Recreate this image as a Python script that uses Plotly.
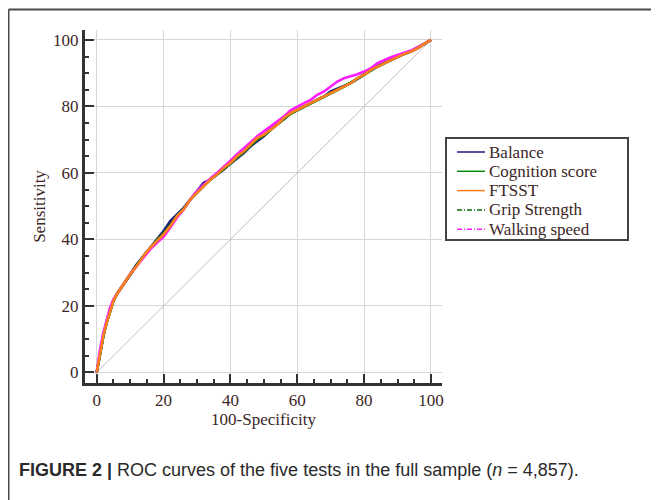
import plotly.graph_objects as go

# ROC points (100-Specificity vs Sensitivity)
fpr = [0, 1, 2, 3, 4, 5, 6, 8, 10, 12, 14, 16, 18, 20, 22, 24, 26, 28, 30,
       32, 34, 36, 38, 40, 42, 44, 46, 48, 50, 52, 54, 56, 58, 60, 62, 64,
       66, 68, 70, 72, 74, 76, 78, 80, 82, 84, 86, 88, 90, 92, 94, 96, 98, 100]

balance = [0, 6, 11, 15.5, 19, 21.5, 23.5, 26.5, 29.5, 32.5, 35, 37.5, 40, 42.5,
           45.5, 47.5, 49.5, 52, 54.5, 57, 58, 59.5, 61, 62.8, 64.5, 66, 68,
           69.5, 71, 73, 74.5, 76.2, 78, 79, 80, 81, 82, 83, 84.5, 85.3, 86.2,
           87, 88.3, 89.5, 91, 92, 93, 94, 95, 95.8, 96.5, 97.5, 98.8, 100]
cognition = [0, 6, 11, 15, 18.5, 21.5, 23.5, 26.5, 29.5, 32.2, 35, 37.5, 39.8,
             41.8, 44.2, 47, 49, 52, 54, 56.2, 58, 59.5, 61.2, 62.7, 64.6, 66.3,
             68.2, 70, 71.3, 73, 74.6, 76.3, 77.8, 78.8, 79.8, 80.8, 81.8, 83,
             84, 85, 86, 87.2, 88.4, 89.6, 91, 92, 93, 94, 95, 95.8, 96.6, 97.6,
             98.8, 100]
ftsst = [0, 6, 11, 15, 18.5, 21.5, 23.5, 26.5, 29.5, 32, 35, 37.5, 39.5, 41.5,
         44, 47, 49, 52, 54, 56, 58, 59.5, 61.5, 63, 65, 66.5, 68.5, 70.5, 71.5,
         73, 74.5, 76.5, 78, 79, 80, 81, 82, 83, 84, 85, 86, 87, 88.5, 89.5,
         91, 92, 93, 94, 95, 95.8, 96.5, 97.5, 98.8, 100]
grip = [0, 6, 11, 15, 18.5, 21.5, 23.5, 26.5, 29.5, 32.3, 35, 37.5, 39.7, 41.7,
        44.3, 47, 49.2, 52, 54.2, 56.3, 58, 59.7, 61.3, 62.8, 64.8, 66.4, 68.3,
        70.2, 71.4, 73.1, 74.7, 76.4, 77.9, 78.9, 79.9, 80.9, 81.9, 83.1, 84.1,
        85.1, 86.1, 87.1, 88.4, 89.6, 91, 92.1, 93.1, 94.1, 95.1, 95.9, 96.6,
        97.6, 98.8, 100]
walking = [0, 7, 12, 16, 19.5, 22, 23.5, 26.5, 29.5, 32, 34.5, 37, 39, 40.8,
           43.5, 46.5, 49, 52, 54.5, 56.5, 58.3, 60, 62, 63.7, 65.6, 67.5, 69.2,
           71, 72.5, 74, 75.5, 77, 78.8, 80, 81, 82, 83.5, 84.5, 86, 87.5, 88.5,
           89, 89.7, 90.5, 91.5, 93, 94, 94.8, 95.5, 96.2, 96.8, 97.8, 99, 100]

names = ['Balance', 'Cognition score', 'FTSST', 'Grip Strength',
         'Walking speed']
colors = ['#1c1c86', '#0a8a0a', '#ff7f1e', '#0b6b0b', '#ff1cff']
legend_dash = [None, None, None, '5px,2px,1px,2px', '5px,2px,1px,2px']

text_col = '#3d2626'
serif = 'Liberation Serif'

# the page puts the figure 8px in from the top-left corner
OFF = 8
W, H = 659 - OFF, 500 - OFF
L, R, T, B = 77, 217, 22, 117
pw, ph = W - L - R, H - T - B


def px(x):
    # page x -> paper x
    return (x - OFF - L) / pw


def py(y):
    # page y -> paper y
    return (H - B - (y - OFF)) / ph


fig = go.Figure()

fig.add_trace(go.Scatter(x=[0, 100], y=[0, 100], mode='lines',
                         line=dict(color='#cbb8b8', width=1),
                         showlegend=False, hoverinfo='skip'))

series = [balance, cognition, grip, walking, ftsst]
order = [0, 1, 3, 4, 2]
for ys, i in zip(series, order):
    fig.add_trace(go.Scatter(x=fpr, y=ys, mode='lines', name=names[i],
                             showlegend=False,
                             line=dict(color=colors[i], width=2.6)))

axis_common = dict(
    showline=True, linecolor='#333333', linewidth=3,
    showgrid=True, gridcolor='#d6d6d6', gridwidth=1, zeroline=False,
    ticks='inside', ticklen=9, tickwidth=2, tickcolor='#333333',
    dtick=20, tick0=0, automargin=False,
    minor=dict(ticks='inside', dtick=5, ticklen=4, tickwidth=2,
               tickcolor='#333333', showgrid=False),
    tickfont=dict(family=serif, size=17, color=text_col),
)

fig.update_xaxes(range=[-3.5, 103.3], title=dict(
    text='100-Specificity', font=dict(family=serif, size=17, color=text_col),
    standoff=2), **axis_common)
fig.update_yaxes(range=[-3.2, 103], title=dict(
    text='Sensitivity', font=dict(family=serif, size=17, color=text_col),
    standoff=4), **axis_common)

# legend box drawn by hand to keep the tight row spacing
fig.add_shape(type='rect', xref='paper', yref='paper', x0=px(446),
              x1=px(628), y0=py(138), y1=py(240),
              line=dict(color='#444444', width=2), fillcolor='white')
row0, step = 152, 19.3
for k, nm in enumerate(names):
    yy = py(row0 + k * step)
    fig.add_shape(type='line', xref='paper', yref='paper', x0=px(457),
                  x1=px(485), y0=yy, y1=yy,
                  line=dict(color=colors[k], width=1.5,
                            dash=legend_dash[k] or 'solid'))
    fig.add_annotation(xref='paper', yref='paper', x=px(487), y=yy,
                       xanchor='left', yanchor='middle', showarrow=False,
                       text=nm, font=dict(family=serif, size=17,
                                          color=text_col))

# frame around the whole figure
fig.add_shape(type='line', xref='paper', yref='paper', x0=px(8.5),
              x1=px(8.5), y0=py(9.5), y1=py(502),
              line=dict(color='#4a4a4a', width=2))
fig.add_shape(type='line', xref='paper', yref='paper', x0=px(8.5),
              x1=px(661), y0=py(9.5), y1=py(9.5),
              line=dict(color='#4a4a4a', width=2))

fig.add_annotation(
    xref='paper', yref='paper', x=px(17), y=py(470), xanchor='left',
    yanchor='middle', showarrow=False,
    text='<b>FIGURE 2 |</b> ROC curves of the five tests in the full sample '
         '(<i>n</i> = 4,857).',
    font=dict(family='Liberation Sans, Arial, sans-serif', size=18,
              color='#2a2a2a'))

fig.update_layout(
    width=W, height=H,
    margin=dict(l=L, r=R, t=T, b=B),
    paper_bgcolor='white', plot_bgcolor='white',
    font=dict(family=serif, color=text_col),
    showlegend=False,
)

fig.write_html('out.html')
